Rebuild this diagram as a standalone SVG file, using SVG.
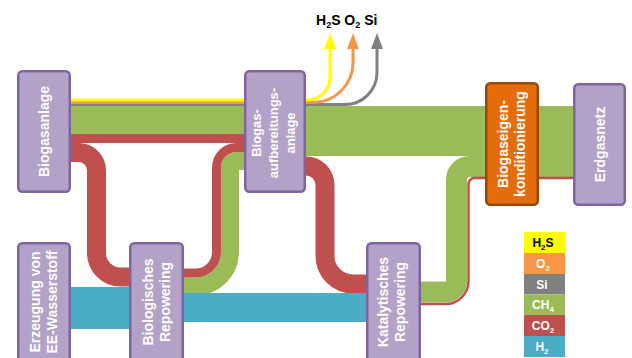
<svg xmlns="http://www.w3.org/2000/svg" width="632" height="358" viewBox="0 0 632 358">
<style>
.box{fill:#B3A2C7;stroke:#8064A2;stroke-width:2.5}
.obox{fill:#E46C0A;stroke:#984807;stroke-width:2.5}
.lbl{font-family:"Liberation Sans",Arial,sans-serif;font-weight:bold;font-size:14px;fill:#fff;text-anchor:middle}
.f{fill:none;stroke-linecap:butt;stroke-linejoin:round}
.ch4{stroke:#9BBB59}
.co2{stroke:#C0504D}
.h2{stroke:#4BACC6}
.leg{font-family:"Liberation Sans",Arial,sans-serif;font-weight:bold;font-size:12px;fill:#fff;text-anchor:middle}
</style>
<defs>
<marker id="ay" markerUnits="userSpaceOnUse" markerWidth="16" markerHeight="12" viewBox="0 0 16 12" refX="0" refY="6" orient="auto"><path d="M0,0 L16,6 L0,12 z" fill="#FFFF00"/></marker>
<marker id="ao" markerUnits="userSpaceOnUse" markerWidth="16" markerHeight="12" viewBox="0 0 16 12" refX="0" refY="6" orient="auto"><path d="M0,0 L16,6 L0,12 z" fill="#F79646"/></marker>
<marker id="ag" markerUnits="userSpaceOnUse" markerWidth="16" markerHeight="12" viewBox="0 0 16 12" refX="0" refY="6" orient="auto"><path d="M0,0 L16,6 L0,12 z" fill="#808080"/></marker>
</defs>
<rect width="632" height="358" fill="#fff"/>
<g id="connectors">
<path class="f ch4" stroke-width="28" d="M65,120 H250"/>
<path class="f ch4" stroke-width="50" d="M300,131 H490"/>
<path class="f ch4" stroke-width="71" d="M535,141.5 H578"/>
<path class="f co2" stroke-width="9" d="M65,138.5 H250"/>
<path class="f co2" stroke-width="19" d="M65,152.5 H78.5 A18,18 0 0 1 96.5,170.5 V253 A24,24 0 0 0 120.5,277 H135"/>
<path class="f ch4" stroke-width="18" d="M250,161 H236.5 A6.5,6.5 0 0 0 230,167.5 V252 A34.5,34.5 0 0 1 195.5,286.5 H178"/>
<path class="f co2" stroke-width="9" d="M250,147.5 H236.5 A20,20 0 0 0 216.5,167.5 V252 A21,21 0 0 1 195.5,273 H178"/>
<path class="f co2" stroke-width="19" d="M300,166 H306 A19,19 0 0 1 325,185 V256 A28,28 0 0 0 353,284 H372"/>
<path class="f h2" stroke-width="42" d="M65,308 H135"/>
<path class="f h2" stroke-width="29" d="M178,307.5 H372"/>
<path class="f ch4" stroke-width="21" d="M415,292 H445.5 A11,11 0 0 0 456.5,281 V179.5 A13,13 0 0 1 469.5,166.5 H490"/>
<path class="f co2" stroke-width="2.5" d="M415,304 H445.5 A23,23 0 0 0 468.5,281 V184 A6,6 0 0 1 474.5,178 H578"/>
<path class="f" stroke="#808080" stroke-width="3" d="M65,104.5 H345 A32,32 0 0 0 377,72.5 V49" marker-end="url(#ag)"/>
<path class="f" stroke="#F79646" stroke-width="3" d="M65,102.5 H313 A40,40 0 0 0 353,62.5 V49" marker-end="url(#ao)"/>
<path class="f" stroke="#FFFF00" stroke-width="3" d="M65,100 H307 A23,23 0 0 0 330,77 V49" marker-end="url(#ay)"/>
</g>
<g id="node-biogasanlage">
<rect class="box" x="18.25" y="71.25" width="51.5" height="120.5" rx="4"/>
<text class="lbl" transform="translate(49,131.5) rotate(-90)">Biogasanlage</text>
</g>
<g id="node-aufbereitung">
<rect class="box" x="245.25" y="71.25" width="59.5" height="120.5" rx="4"/>
<text class="lbl" style="font-size:13px" transform="translate(261,133) rotate(-90)"><tspan x="0" dy="0">Biogas-</tspan><tspan x="0" dy="17">aufbereitungs-</tspan><tspan x="0" dy="17">anlage</tspan></text>
</g>
<g id="node-konditionierung">
<rect class="obox" x="486.25" y="83.25" width="51.5" height="121.5" rx="4"/>
<text class="lbl" transform="translate(507.5,144) rotate(-90)"><tspan x="0" dy="0">Biogaseigen-</tspan><tspan x="0" dy="17.5">konditionierung</tspan></text>
</g>
<g id="node-erdgasnetz">
<rect class="box" x="574.25" y="84.25" width="50.5" height="120.5" rx="4"/>
<text class="lbl" transform="translate(605,144.5) rotate(-90)">Erdgasnetz</text>
</g>
<g id="node-erzeugung">
<rect class="box" x="18.25" y="243.25" width="51.5" height="125" rx="4"/>
<text class="lbl" transform="translate(39.5,302) rotate(-90)"><tspan x="0" dy="0">Erzeugung von</tspan><tspan x="0" dy="17.5">EE-Wasserstoff</tspan></text>
</g>
<g id="node-bio-repowering">
<rect class="box" x="130.25" y="243.25" width="52.5" height="125" rx="4"/>
<text class="lbl" transform="translate(152.5,302) rotate(-90)"><tspan x="0" dy="0">Biologisches</tspan><tspan x="0" dy="17.5">Repowering</tspan></text>
</g>
<g id="node-kat-repowering">
<rect class="box" x="367.25" y="243.25" width="52.5" height="125" rx="4"/>
<text class="lbl" transform="translate(387.5,302) rotate(-90)"><tspan x="0" dy="0">Katalytisches</tspan><tspan x="0" dy="17.5">Repowering</tspan></text>
</g>
<g id="outputs">
<text x="316" y="25" font-family="Liberation Sans, Arial, sans-serif" font-weight="bold" font-size="14" fill="#000">H<tspan font-size="9" dy="3">2</tspan><tspan dy="-3">S O</tspan><tspan font-size="9" dy="3">2</tspan><tspan dy="-3"> Si</tspan></text>
</g>
<g id="legend">
<rect x="524" y="232" width="41" height="21" fill="#FFFF00"/>
<rect x="524" y="253" width="41" height="21" fill="#F79646"/>
<rect x="524" y="274" width="41" height="20.5" fill="#808080"/>
<rect x="524" y="294.5" width="41" height="20.5" fill="#9BBB59"/>
<rect x="524" y="315" width="41" height="21" fill="#C0504D"/>
<rect x="524" y="336" width="41" height="21" fill="#4BACC6"/>
<text class="leg" x="543" y="247" style="fill:#000">H<tspan font-size="8" dy="3">2</tspan><tspan dy="-3">S</tspan></text>
<text class="leg" x="543" y="268">O<tspan font-size="8" dy="3">2</tspan></text>
<text class="leg" x="542" y="288.5">Si</text>
<text class="leg" x="543" y="309">CH<tspan font-size="8" dy="3">4</tspan></text>
<text class="leg" x="543" y="330">CO<tspan font-size="8" dy="3">2</tspan></text>
<text class="leg" x="542" y="351">H<tspan font-size="8" dy="3">2</tspan></text>
</g>
</svg>
